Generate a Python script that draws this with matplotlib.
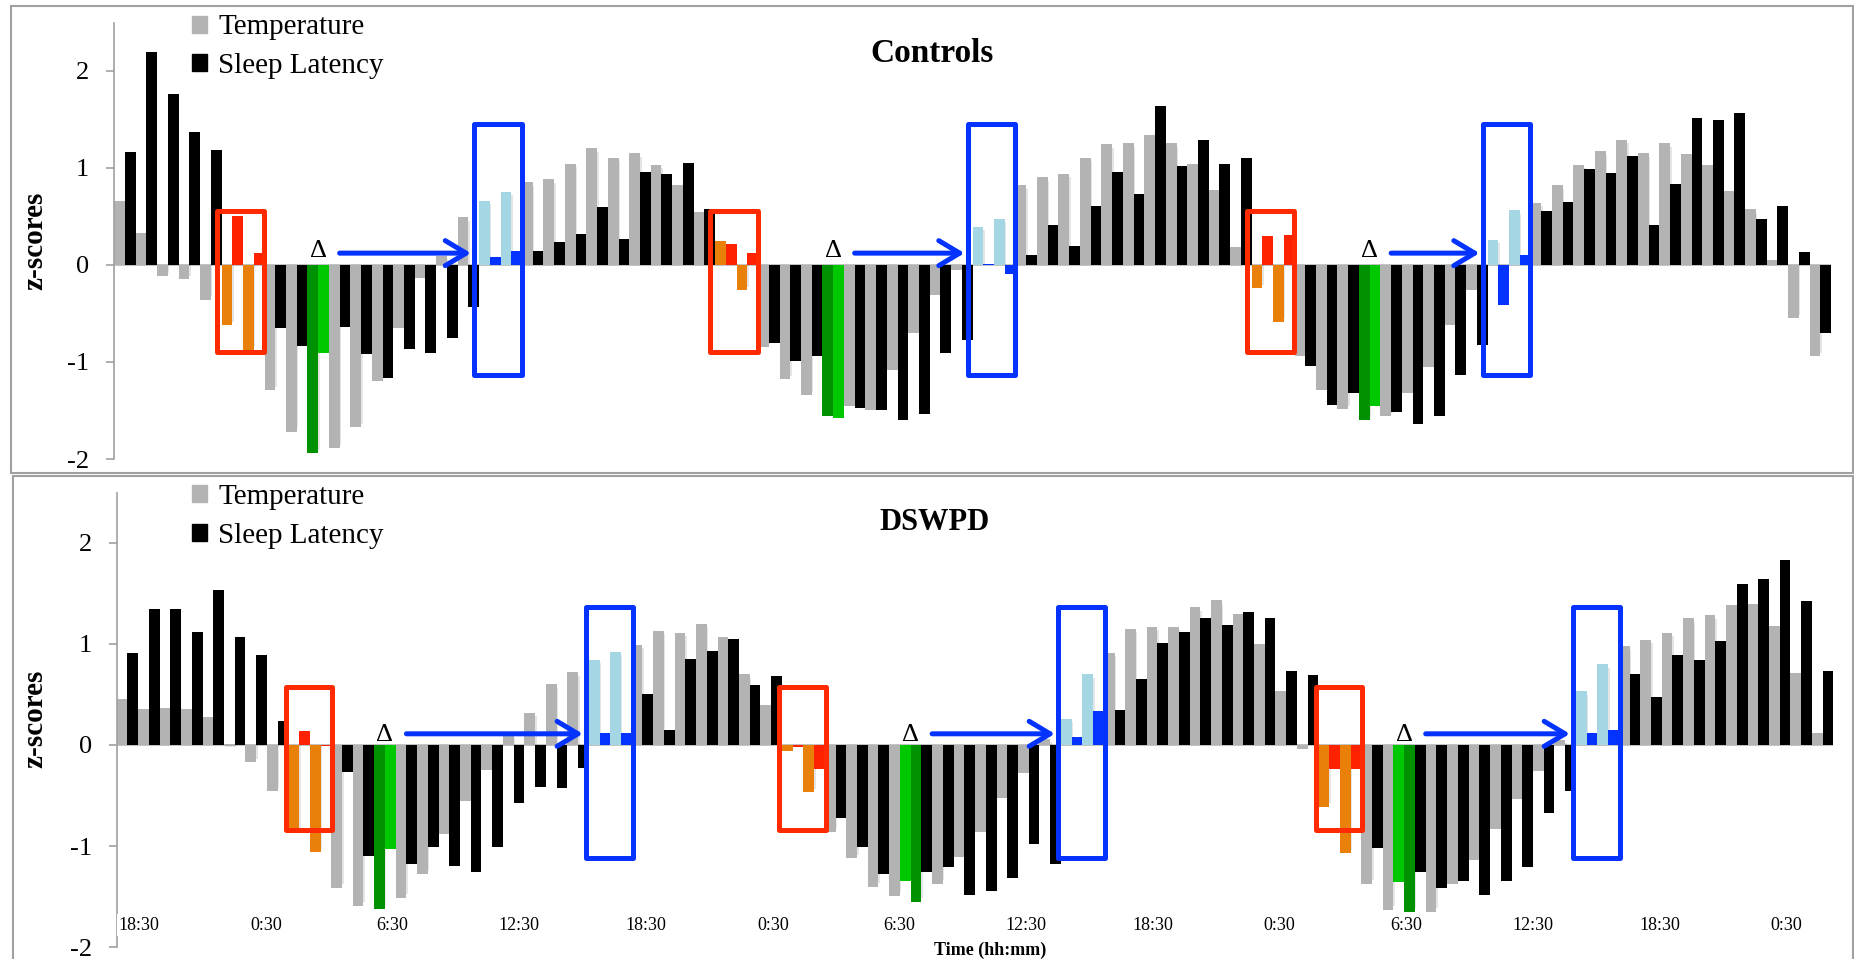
import numpy as np
import matplotlib
matplotlib.use("Agg")
import matplotlib.pyplot as plt
from matplotlib.patches import Rectangle, Patch

plt.rcParams['font.family'] = ['Liberation Serif', 'DejaVu Serif']
plt.rcParams['axes.unicode_minus'] = False

# ---- data (z-scores, one value per hour, 80 hours) ----
ctrl_temp = [0.66, 0.33, -0.12, -0.15, -0.36, -0.62, -0.88, -1.29, -1.72, -1.94,
             -1.89, -1.67, -1.20, -0.65, -0.14, 0.09, 0.49, 0.66, 0.75, 0.85,
             0.88, 1.04, 1.20, 1.10, 1.15, 1.03, 0.82, 0.54, 0.25, -0.26,
             -0.85, -1.18, -1.34, -1.56, -1.45, -1.50, -1.08, -0.70, -0.31, -0.05,
             0.39, 0.47, 0.82, 0.90, 0.94, 1.10, 1.24, 1.25, 1.34, 1.25,
             1.04, 0.77, 0.18, -0.24, -0.59, -0.94, -1.29, -1.49, -1.60, -1.56,
             -1.32, -1.05, -0.62, -0.26, 0.26, 0.56, 0.64, 0.82, 1.03, 1.17,
             1.29, 1.15, 1.25, 1.14, 1.03, 0.76, 0.57, 0.05, -0.55, -0.94]
ctrl_sl = [1.16, 2.19, 1.76, 1.37, 1.18, 0.50, 0.12, -0.65, -0.84, -0.91,
           -0.64, -0.92, -1.17, -0.87, -0.91, -0.75, -0.43, 0.08, 0.14, 0.14,
           0.23, 0.32, 0.60, 0.27, 0.96, 0.94, 1.05, 0.57, 0.21, 0.12,
           -0.81, -0.99, -0.94, -1.58, -1.47, -1.50, -1.60, -1.54, -0.91, -0.77,
           0.01, -0.09, 0.10, 0.41, 0.19, 0.61, 0.96, 0.73, 1.64, 1.02,
           1.28, 1.04, 1.10, 0.30, 0.31, -1.04, -1.44, -1.32, -1.45, -1.52,
           -1.64, -1.56, -1.13, -0.83, -0.41, 0.10, 0.55, 0.65, 0.99, 0.95,
           1.12, 0.41, 0.83, 1.51, 1.49, 1.56, 0.47, 0.61, 0.13, -0.70]
dswpd_temp = [0.45, 0.36, 0.37, 0.36, 0.28, 0.01, -0.17, -0.46, -0.87, -1.06,
              -1.41, -1.59, -1.62, -1.51, -1.28, -0.88, -0.55, -0.25, 0.10, 0.32,
              0.60, 0.72, 0.84, 0.92, 0.99, 1.13, 1.11, 1.20, 1.07, 0.70,
              0.39, -0.06, -0.47, -0.86, -1.12, -1.40, -1.49, -1.55, -1.37, -1.11,
              -0.86, -0.52, -0.28, 0.06, 0.26, 0.70, 0.91, 1.15, 1.17, 1.17,
              1.36, 1.43, 1.29, 1.00, 0.53, -0.04, -0.61, -1.07, -1.37, -1.63,
              -1.65, -1.65, -1.37, -1.14, -0.83, -0.53, -0.26, 0.05, 0.53, 0.80,
              0.98, 1.04, 1.11, 1.25, 1.28, 1.38, 1.39, 1.18, 0.71, 0.12]
dswpd_sl = [0.91, 1.34, 1.34, 1.12, 1.53, 1.07, 0.89, 0.24, 0.14, -0.01,
            -0.27, -1.10, -1.03, -1.18, -1.01, -1.20, -1.26, -1.01, -0.57, -0.42,
            -0.43, -0.23, 0.12, 0.12, 0.50, 0.15, 0.85, 0.93, 1.05, 0.59,
            0.68, -0.02, -0.24, -0.72, -1.01, -1.28, -1.34, -1.26, -1.21, -1.48,
            -1.44, -1.32, -0.98, -1.18, 0.08, 0.34, 0.35, 0.65, 1.01, 1.12,
            1.25, 1.19, 1.31, 1.25, 0.73, 0.69, -0.24, -0.24, -1.02, -1.35,
            -1.26, -1.41, -1.34, -1.48, -1.34, -1.21, -0.67, -0.46, 0.12, 0.15,
            0.70, 0.47, 0.89, 0.84, 1.03, 1.59, 1.64, 1.83, 1.42, 0.73]

# highlighted hours (red box = sleep onset, blue box = after wake, green = Δ)
ctrl_onset = [5, 6, 28, 29, 53, 54]
ctrl_wake = [17, 18, 40, 41, 64, 65]
ctrl_green_temp = [9, 33, 58]
ctrl_green_sl = [9, 33, 58]
dswpd_onset = [8, 9, 31, 32, 56, 57]
dswpd_wake = [22, 23, 44, 45, 68, 69]
dswpd_green_temp = [12, 37, 60]
dswpd_green_sl = [12, 36, 59]

time_labels = ['18:30', '0:30', '6:30', '12:30'] * 3 + ['18:30', '0:30']

GREY = '#b3b3b3'
ORANGE = '#e8800a'
RED = '#ff2200'
LBLUE = '#a4d6e3'
BLUE = '#0433ff'
DGREEN = '#009100'
LGREEN = '#00c800'
BOXRED = '#ff2a00'
FRAME = '#a0a0a0'

W, H = 1854, 959
fig = plt.figure(figsize=(W / 100, H / 100), dpi=100)


def draw_panel(ax, temp, sl, onset, wake, g_temp, g_sl, pad, red_y, blue_y,
               arrow_y, delta_y):
    n = len(temp)
    x = np.arange(n)
    tc = [GREY] * n
    sc = ['black'] * n
    for i in onset:
        tc[i] = ORANGE
        sc[i] = RED
    for i in wake:
        tc[i] = LBLUE
        sc[i] = BLUE
    for i in g_temp:
        tc[i] = DGREEN
    for i in g_sl:
        sc[i] = LGREEN

    ax.axhline(0, color='#b8b8b8', lw=1.2, zorder=1)
    # soft drop shadow like the spreadsheet original
    ax.bar(x - 0.25 + 0.07, np.array(temp) - 0.035 * np.sign(temp), width=0.5,
           color='black', alpha=0.10, zorder=1.5, lw=0)
    ax.bar(x - 0.25, temp, width=0.5, color=tc, zorder=2)
    ax.bar(x + 0.25, sl, width=0.5, color=sc, zorder=3)

    # boxes around pairs of hours
    for k in range(0, len(onset), 2):
        i0, i1 = onset[k], onset[k + 1]
        ax.add_patch(Rectangle((i0 - pad[0], red_y[0]), i1 - i0 + pad[0] + pad[1],
                               red_y[1] - red_y[0], fill=False, ec=BOXRED,
                               lw=3.6, joinstyle='round', zorder=5))
    for k in range(0, len(wake), 2):
        i0, i1 = wake[k], wake[k + 1]
        left = i0 - pad[0]
        ax.add_patch(Rectangle((left, blue_y[0]), i1 - i0 + pad[0] + pad[1],
                               blue_y[1] - blue_y[0], fill=False, ec=BLUE,
                               lw=3.6, joinstyle='round', zorder=5))
        gt, gs = g_temp[k // 2], g_sl[k // 2]
        dx = (gt + gs) / 2
        ax.text(dx, delta_y, '\u0394', ha='center', va='baseline',
                fontsize=19, zorder=6)
        ax.annotate('', xy=(left - 0.16, arrow_y), xytext=(dx + 1.0, arrow_y),
                    arrowprops=dict(arrowstyle='->,head_length=0.75,head_width=0.45',
                                    color=BLUE, lw=3.6, mutation_scale=20,
                                    shrinkA=0, shrinkB=0), zorder=6)

    ax.set_xlim(-0.5, n - 0.5)
    ax.set_ylim(-2, 2.49)
    ax.set_yticks([-2, -1, 0, 1, 2])
    ax.set_yticklabels(['-2', '-1', '0', '1', '2'])
    ax.set_xticks([])
    for s in ['top', 'right', 'bottom']:
        ax.spines[s].set_visible(False)
    ax.spines['left'].set_color(FRAME)
    ax.spines['left'].set_linewidth(1.2)
    ax.tick_params(axis='y', colors=FRAME, labelcolor='black', length=6,
                   width=1.2, pad=12, labelsize=19)
    ax.patch.set_alpha(0)


ax1 = fig.add_axes([114.3 / W, 1 - 459 / H, (1831 - 114.3) / W, (459 - 23) / H])
draw_panel(ax1, ctrl_temp, ctrl_sl, ctrl_onset, ctrl_wake, ctrl_green_temp,
           ctrl_green_sl, (0.72, 0.48), (-0.90, 0.55), (-1.14, 1.45), 0.12, 0.08)

ax2 = fig.add_axes([116.7 / W, 1 - 947.3 / H, (1833.4 - 116.7) / W, (947.3 - 493) / H])
draw_panel(ax2, dswpd_temp, dswpd_sl, dswpd_onset, dswpd_wake, dswpd_green_temp,
           dswpd_green_sl, (0.62, 0.55), (-0.84, 0.57), (-1.12, 1.36), 0.11, 0.035)

for j, lab in enumerate(time_labels):
    ax2.text(0.55 + 5.905 * j, -1.78, lab, ha='center', va='center', fontsize=13,
             bbox=dict(fc='white', ec='none', pad=1.5), zorder=7)

# legends
for ax, top in [(ax1, 14.5), (ax2, 484)]:
    ax.legend(handles=[Patch(color=GREY, label='Temperature'),
                       Patch(color='black', label='Sleep Latency')],
              loc='upper left', bbox_to_anchor=(192 / W, 1 - top / H),
              bbox_transform=fig.transFigure, frameon=False, fontsize=21,
              handlelength=0.52, handleheight=0.52, handletextpad=0.38,
              labelspacing=0.43, borderpad=0, borderaxespad=0)

fig.text(932 / W, 1 - 53 / H, 'Controls', ha='center', va='center',
         fontsize=24, fontweight='bold')
fig.text(935 / W, 1 - 523 / H, 'DSWPD', ha='center', va='center',
         fontsize=22, fontweight='bold')
for yc in [241, 719]:
    fig.text(35 / W, 1 - yc / H, 'z-scores', rotation=90, ha='center',
             va='center', fontsize=21, fontweight='bold')
fig.text(990 / W, 1 - 950 / H, 'Time (hh:mm)', ha='center', va='center',
         fontsize=13, fontweight='bold')

# panel frames
fig.add_artist(Rectangle((11 / W, 1 - 473 / H), (1853 - 11) / W, (473 - 6) / H,
                         transform=fig.transFigure, fill=False, ec=FRAME, lw=1.5))
fig.add_artist(Rectangle((13 / W, -0.05), (1853 - 13) / W, 1 - 476 / H + 0.05,
                         transform=fig.transFigure, fill=False, ec=FRAME, lw=1.5))

fig.savefig('out.png', dpi=100)
